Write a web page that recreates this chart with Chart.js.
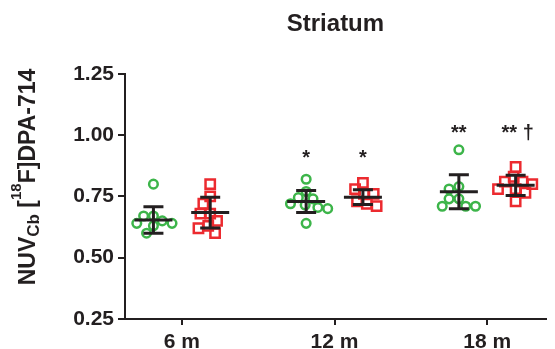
<!DOCTYPE html>
<html><head><meta charset="utf-8">
<script src="https://cdn.jsdelivr.net/npm/chart.js@4.4.0/dist/chart.umd.min.js"></script>
<style>html,body{margin:0;padding:0;background:#fff;}#wrap{width:555px;height:349px;position:relative;}</style>
</head><body><div id="wrap"><canvas id="c"></canvas></div>
<script>
// ---- data ----
const categories = ['6 m', '12 m', '18 m'];
const yTicks = [0.25, 0.50, 0.75, 1.00, 1.25];
const greenValues = [
  [0.80, 0.67, 0.67, 0.65, 0.64, 0.64, 0.63, 0.60],
  [0.82, 0.77, 0.745, 0.74, 0.72, 0.715, 0.705, 0.70, 0.64],
  [0.94, 0.79, 0.78, 0.74, 0.74, 0.71, 0.71, 0.71]
];
const redValues = [
  [0.80, 0.75, 0.72, 0.68, 0.68, 0.65, 0.63, 0.62, 0.60],
  [0.805, 0.78, 0.76, 0.76, 0.73, 0.72, 0.71],
  [0.87, 0.83, 0.81, 0.81, 0.80, 0.78, 0.78, 0.765, 0.73]
];
const greenMean = [0.654, 0.729, 0.769];
const greenSD = [0.054, 0.045, 0.069];
const redMean = [0.684, 0.747, 0.795];
const redSD = [0.063, 0.030, 0.041];
const greenSig = ['', '*', '**'];
const redSig = ['', '*', '** \u2020'];

// ---- layout helpers ----
const X_MIN = 0.628, X_MAX = 3.384;
const PX_X = 430 / (X_MAX - X_MIN);   // px per x unit
const PX_Y = 245;                     // px per y unit
const SIDE = 29 / PX_X;
const GREEN = '#3db54a', RED = '#ec2a2f', INK = '#231f20';

function swarm(values, center, minDist) {
  const placed = [];
  const sorted = values.slice().sort((a, b) => b - a);
  for (const v of sorted) {
    let off = 0;
    for (let k = 0; k < 200; k++) {
      const cand = (k === 0) ? 0 : ((k % 2 ? -1 : 1) * Math.ceil(k / 2));
      const ok = placed.every(p => {
        const dx = cand - p.o, dy = (v - p.v) * PX_Y;
        return dx * dx + dy * dy >= minDist * minDist;
      });
      if (ok) { off = cand; break; }
    }
    placed.push({ v, o: off });
  }
  return placed.map(p => ({ x: center + p.o / PX_X, y: p.v }));
}

const greenPts = [], redPts = [];
categories.forEach((c, i) => {
  greenPts.push(...swarm(greenValues[i], i + 1 - SIDE, 9.5));
  redPts.push(...swarm(redValues[i], i + 1 + SIDE, 10));
});

const FONT = "'Liberation Sans', Arial, Helvetica, sans-serif";

const errPlugin = {
  id: 'errbars',
  afterDatasetsDraw(chart) {
    const { ctx, scales: { x, y } } = chart;
    ctx.save();
    ctx.strokeStyle = INK;
    ctx.lineWidth = 3;
    const groups = [[greenMean, greenSD, -SIDE, greenSig], [redMean, redSD, SIDE, redSig]];
    categories.forEach((c, i) => {
      groups.forEach(([m, s, off, sig]) => {
        const cx = x.getPixelForValue(i + 1 + off);
        const ym = y.getPixelForValue(m[i]);
        const yt = y.getPixelForValue(m[i] + s[i]);
        const yb = y.getPixelForValue(m[i] - s[i]);
        ctx.beginPath();
        ctx.moveTo(cx - 19, ym); ctx.lineTo(cx + 19, ym);
        ctx.moveTo(cx, yt); ctx.lineTo(cx, yb);
        ctx.moveTo(cx - 10, yt); ctx.lineTo(cx + 10, yt);
        ctx.moveTo(cx - 10, yb); ctx.lineTo(cx + 10, yb);
        ctx.stroke();
        if (sig[i]) {
          ctx.fillStyle = INK;
          ctx.font = 'bold 20px ' + FONT;
          ctx.textAlign = 'center';
          ctx.textBaseline = 'alphabetic';
          const lvl = sig[i].startsWith('**') ? 1.026 : 0.923;
          ctx.fillText(sig[i], cx + (sig[i].length > 2 ? 2 : 0), y.getPixelForValue(lvl) + 10);
        }
      });
    });
    ctx.restore();
  },
  afterDraw(chart) {
    const ctx = chart.ctx;
    const segs = [
      ['NUV', 23, 0], ['Cb', 17, 4], [' [', 23, 0], ['18', 15, -14], ['F]DPA-714', 23, 0]
    ];
    ctx.save();
    let total = 0;
    segs.forEach(s => { ctx.font = 'bold ' + s[1] + 'px ' + FONT; total += ctx.measureText(s[0]).width; });
    ctx.translate(35, 177);
    ctx.rotate(-Math.PI / 2);
    ctx.fillStyle = INK;
    ctx.textBaseline = 'alphabetic';
    ctx.textAlign = 'left';
    let px = -total / 2;
    segs.forEach(s => {
      ctx.font = 'bold ' + s[1] + 'px ' + FONT;
      ctx.fillText(s[0], px, s[2]);
      px += ctx.measureText(s[0]).width;
    });
    ctx.restore();
  }
};

new Chart(document.getElementById('c'), {
  type: 'scatter',
  data: {
    datasets: [
      { label: 'green', data: greenPts, pointStyle: 'circle', pointRadius: 4.3, borderWidth: 2.5,
        borderColor: GREEN, backgroundColor: 'rgba(255,255,255,0)', pointHoverRadius: 4.3 },
      { label: 'red', data: redPts, pointStyle: 'rect', pointRadius: 6.6, borderWidth: 2.5,
        borderColor: RED, backgroundColor: 'rgba(255,255,255,0)', pointHoverRadius: 6.6 }
    ]
  },
  options: {
    responsive: true, maintainAspectRatio: false, animation: false, events: [],
    layout: { padding: 0 },
    plugins: {
      legend: { display: false }, tooltip: { enabled: false },
      title: { display: true, text: 'Striatum', fullSize: false, color: INK,
        font: { family: FONT, size: 24, weight: 'bold' }, padding: { top: 10, bottom: 35 } }
    },
    scales: {
      x: {
        type: 'linear', min: X_MIN, max: X_MAX,
        afterBuildTicks: s => { s.ticks = [1, 2, 3].map(v => ({ value: v })); },
        afterFit: s => { s.height = 30; },
        ticks: { callback: (v, i) => categories[i], color: INK, padding: 5, maxRotation: 0, autoSkip: false,
          font: { family: FONT, size: 21, weight: 'bold' } },
        grid: { drawOnChartArea: false, drawTicks: true, tickLength: 6, color: INK, lineWidth: 2 },
        border: { color: INK, width: 2 }
      },
      y: {
        min: 0.25, max: 1.25,
        afterBuildTicks: s => { s.ticks = yTicks.map(v => ({ value: v })); },
        afterFit: s => { s.width = 125; },
        ticks: { callback: v => v.toFixed(2), color: INK, padding: 4,
          font: { family: FONT, size: 21, weight: 'bold' } },
        grid: { drawOnChartArea: false, drawTicks: true, tickLength: 7, color: INK, lineWidth: 2 },
        border: { color: INK, width: 2 }
      }
    }
  },
  plugins: [errPlugin]
});
</script></body></html>
